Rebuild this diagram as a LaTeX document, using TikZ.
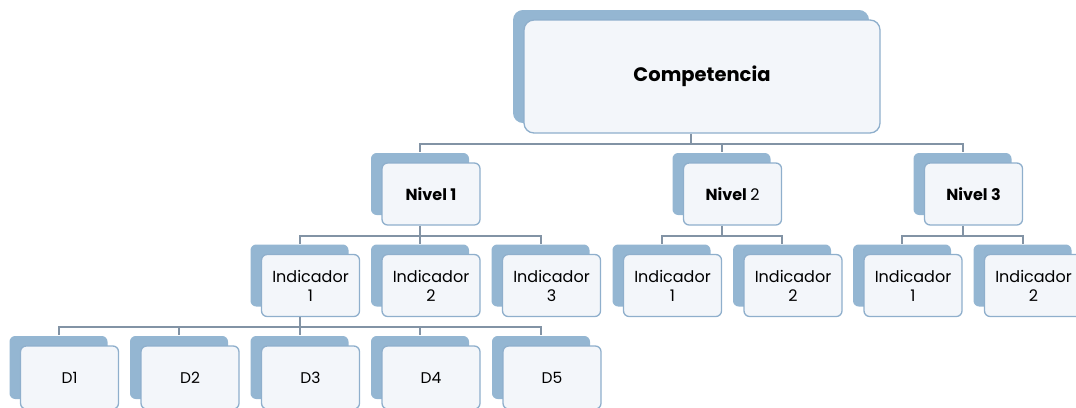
\documentclass[tikz,border=0pt]{standalone}
\usepackage{fontspec}
\setmainfont{Poppins}
\usetikzlibrary{shadows}
\definecolor{backblue}{HTML}{94B6D2}
\definecolor{frontfill}{HTML}{F3F6FA}
\definecolor{frontline}{HTML}{8FAFCC}
\definecolor{linkgray}{HTML}{8293A5}
\begin{document}
\begin{tikzpicture}[
                                x=1pt, y=-1pt,
                                box/.style={
                                    rectangle, rounded corners=2mm,
                                    draw=frontline, line width=1.3pt,
                                    fill=frontfill,
                                    inner sep=0pt, align=center,
                                    copy shadow={shadow xshift=-11pt, shadow yshift=10pt,
                                        fill=backblue, draw=none}
                                    },
                                competence/.style={box,
                                    minimum width=356pt, minimum height=113pt,
                                    rounded corners=3.5mm,
                                    font=\bfseries\fontsize{19.5}{23}\selectfont
                                    },
                                level/.style={box,
                                    minimum width=98pt, minimum height=62pt,
                                    font=\bfseries\fontsize{16}{19}\selectfont
                                    },
                                indicator/.style={box,
                                    minimum width=98pt, minimum height=62pt,
                                    font=\fontsize{16}{19}\selectfont
                                    },
                                dim/.style={box,
                                    minimum width=98pt, minimum height=63pt,
                                    font=\fontsize{15.5}{18}\selectfont
                                    },
                                link/.style={
                                    draw=linkgray, line width=2pt,
                                    to path={([xshift=-11pt]\tikztostart.south) -- ++(0,10)
                                        -| ([xshift=-11pt, yshift=10pt]\tikztotarget.north)}
                                    }
                                ]
                            \useasboundingbox (0,0) rectangle (1076,407);
                            % competencia
                            \node [competence] (comp) at (702,76.5) {Competencia};
                            % niveles
                            \node [level] (n1) at (431,194) {Nivel 1};
                            \node [level] (n2) at (732.5,194) {Nivel {\mdseries 2}};
                            \node [level] (n3) at (973.5,194) {Nivel 3};
                            % indicadores
                            \node [indicator] (n1i1) at (310.5,285.5) {Indicador\\1};
                            \node [indicator] (n1i2) at (431,285.5) {Indicador\\2};
                            \node [indicator] (n1i3) at (551.5,285.5) {Indicador\\3};
                            \node [indicator] (n2i1) at (672.5,285.5) {Indicador\\1};
                            \node [indicator] (n2i2) at (793,285.5) {Indicador\\2};
                            \node [indicator] (n3i1) at (913,285.5) {Indicador\\1};
                            \node [indicator] (n3i2) at (1033.5,285.5) {Indicador\\2};
                            % D1 ... D5
                            \node [dim] (d1) at (69.5,377.5) {D1};
                            \node [dim] (d2) at (190,377.5) {D2};
                            \node [dim] (d3) at (310.5,377.5) {D3};
                            \node [dim] (d4) at (431,377.5) {D4};
                            \node [dim] (d5) at (552,377.5) {D5};
                            % conectores
                            \path [link] (comp) to (n1) (comp) to (n2) (comp) to (n3);
                            \path [link] (n1) to (n1i1) (n1) to (n1i2) (n1) to (n1i3);
                            \path [link] (n2) to (n2i1) (n2) to (n2i2);
                            \path [link] (n3) to (n3i1) (n3) to (n3i2);
                            \path [link] (n1i1) to (d1) (n1i1) to (d2) (n1i1) to (d3)
                                         (n1i1) to (d4) (n1i1) to (d5);
                        \end{tikzpicture}
\end{document}
